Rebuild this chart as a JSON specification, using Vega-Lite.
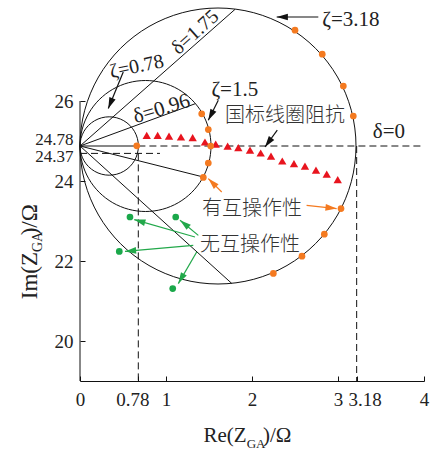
{
  "$schema": "https://vega.github.io/schema/vega-lite/v6.json",
  "autosize": {"type": "none"},
  "padding": {"left": 80, "top": 1, "right": 7, "bottom": 70},
  "width": 344,
  "height": 380,
  "background": "white",
  "config": {
    "view": {"stroke": null},
    "axis": {"grid": false, "labelFont": "Liberation Serif", "labelFontSize": 19, "labelColor": "#222", "domainColor": "#111", "tickColor": "#111", "labelAngle": 0, "labelOverlap": false, "labelBound": false, "labelFlush": false, "format": "~g"}
  },
  "datasets": {
    "circles": [
      {"c":"s","i":0,"x":0.679,"y":24.875},{"c":"s","i":1,"x":0.6674,"y":25.064},{"c":"s","i":2,"x":0.6335,"y":25.24},{"c":"s","i":3,"x":0.5796,"y":25.391},{"c":"s","i":4,"x":0.5093,"y":25.507},{"c":"s","i":5,"x":0.4274,"y":25.58},{"c":"s","i":6,"x":0.3395,"y":25.605},{"c":"s","i":7,"x":0.2516,"y":25.58},{"c":"s","i":8,"x":0.1698,"y":25.507},{"c":"s","i":9,"x":0.0994,"y":25.391},{"c":"s","i":10,"x":0.0455,"y":25.24},{"c":"s","i":11,"x":0.0116,"y":25.064},{"c":"s","i":12,"x":0,"y":24.875},{"c":"s","i":13,"x":0.0116,"y":24.686},{"c":"s","i":14,"x":0.0455,"y":24.51},{"c":"s","i":15,"x":0.0994,"y":24.359},{"c":"s","i":16,"x":0.1698,"y":24.243},{"c":"s","i":17,"x":0.2516,"y":24.17},{"c":"s","i":18,"x":0.3395,"y":24.145},{"c":"s","i":19,"x":0.4274,"y":24.17},{"c":"s","i":20,"x":0.5093,"y":24.243},{"c":"s","i":21,"x":0.5796,"y":24.359},{"c":"s","i":22,"x":0.6335,"y":24.51},{"c":"s","i":23,"x":0.6674,"y":24.686},
      {"c":"m","i":0,"x":1.5232,"y":24.875},{"c":"m","i":1,"x":1.4972,"y":25.299},{"c":"m","i":2,"x":1.4211,"y":25.694},{"c":"m","i":3,"x":1.3001,"y":26.033},{"c":"m","i":4,"x":1.1424,"y":26.293},{"c":"m","i":5,"x":0.9587,"y":26.457},{"c":"m","i":6,"x":0.7616,"y":26.5125},{"c":"m","i":7,"x":0.5645,"y":26.457},{"c":"m","i":8,"x":0.3808,"y":26.293},{"c":"m","i":9,"x":0.2231,"y":26.033},{"c":"m","i":10,"x":0.1021,"y":25.694},{"c":"m","i":11,"x":0.026,"y":25.299},{"c":"m","i":12,"x":0,"y":24.875},{"c":"m","i":13,"x":0.026,"y":24.451},{"c":"m","i":14,"x":0.1021,"y":24.056},{"c":"m","i":15,"x":0.2231,"y":23.717},{"c":"m","i":16,"x":0.3808,"y":23.457},{"c":"m","i":17,"x":0.5645,"y":23.293},{"c":"m","i":18,"x":0.7616,"y":23.2375},{"c":"m","i":19,"x":0.9587,"y":23.293},{"c":"m","i":20,"x":1.1424,"y":23.457},{"c":"m","i":21,"x":1.3001,"y":23.717},{"c":"m","i":22,"x":1.4211,"y":24.056},{"c":"m","i":23,"x":1.4972,"y":24.451},
      {"c":"b","i":0,"x":3.2094,"y":24.875},{"c":"b","i":1,"x":3.1547,"y":25.768},{"c":"b","i":2,"x":2.9944,"y":26.6},{"c":"b","i":3,"x":2.7394,"y":27.3145},{"c":"b","i":4,"x":2.4071,"y":27.8627},{"c":"b","i":5,"x":2.02,"y":28.2074},{"c":"b","i":6,"x":1.6047,"y":28.325},{"c":"b","i":7,"x":1.1894,"y":28.2074},{"c":"b","i":8,"x":0.8024,"y":27.8627},{"c":"b","i":9,"x":0.47,"y":27.3145},{"c":"b","i":10,"x":0.215,"y":26.6},{"c":"b","i":11,"x":0.0547,"y":25.768},{"c":"b","i":12,"x":0,"y":24.875},{"c":"b","i":13,"x":0.0547,"y":23.982},{"c":"b","i":14,"x":0.215,"y":23.15},{"c":"b","i":15,"x":0.47,"y":22.4355},{"c":"b","i":16,"x":0.8024,"y":21.8873},{"c":"b","i":17,"x":1.1894,"y":21.5426},{"c":"b","i":18,"x":1.6047,"y":21.425},{"c":"b","i":19,"x":2.02,"y":21.5426},{"c":"b","i":20,"x":2.4071,"y":21.8873},{"c":"b","i":21,"x":2.7394,"y":22.4355},{"c":"b","i":22,"x":2.9944,"y":23.15},{"c":"b","i":23,"x":3.1547,"y":23.982}
    ],
    "solid": [
      {"x":0,"y":24.875,"x2":0.679,"y2":24.875},
      {"x":0,"y":24.875,"x2":1.802,"y2":28.29},
      {"x":0,"y":24.875,"x2":1.337,"y2":25.93},
      {"x":0,"y":24.875,"x2":1.434,"y2":24.1},
      {"x":0,"y":24.875,"x2":1.764,"y2":21.44},
      {"x":0,"y":19,"x2":0,"y2":26}
    ],
    "dashed": [
      {"x":0.679,"y":24.875,"x2":4,"y2":24.875},
      {"x":0,"y":24.69,"x2":0.93,"y2":24.69},
      {"x":0.678,"y":24.69,"x2":0.678,"y2":19},
      {"x":3.217,"y":24.875,"x2":3.217,"y2":19}
    ],
    "arrows": [
      {"k":"black","x":2.771,"y":28.1,"x2":2.287,"y2":28.1,"ang":270},
      {"k":"black","x":0.503,"y":26.725,"x2":0.329,"y2":25.81,"ang":202},
      {"k":"black","x":1.608,"y":26.02,"x2":1.492,"y2":25.52,"ang":207},
      {"k":"black","x":2.294,"y":25.27,"x2":2.151,"y2":24.85,"ang":216},
      {"k":"orange","x":1.648,"y":23.725,"x2":1.492,"y2":24.06,"ang":315},
      {"k":"orange","x":2.635,"y":23.39,"x2":2.984,"y2":23.31,"ang":96},
      {"k":"green","x":1.337,"y":22.6,"x2":0.631,"y2":23.035,"ang":286},
      {"k":"green","x":1.376,"y":22.64,"x2":1.163,"y2":23.02,"ang":309},
      {"k":"green","x":1.317,"y":22.39,"x2":0.523,"y2":22.24,"ang":265},
      {"k":"green","x":1.357,"y":22.225,"x2":1.143,"y2":21.435,"ang":210}
    ],
    "orange": [
      {"x":0.66,"y":24.88},{"x":1.415,"y":25.68},{"x":1.492,"y":25.285},{"x":1.52,"y":24.875},{"x":1.492,"y":24.45},{"x":1.434,"y":24.09},
      {"x":2.5,"y":27.77},{"x":2.817,"y":27.17},{"x":3.062,"y":26.375},{"x":3.178,"y":25.625},
      {"x":3.035,"y":23.31},{"x":2.841,"y":22.67},{"x":2.581,"y":22.12},{"x":2.248,"y":21.69}
    ],
    "red": [
      {"x":0.776,"y":25.14},{"x":0.903,"y":25.14},{"x":1.035,"y":25.12},{"x":1.174,"y":25.1},{"x":1.31,"y":25.085},{"x":1.453,"y":24.975},{"x":1.578,"y":24.92},{"x":1.717,"y":24.87},{"x":1.841,"y":24.835},{"x":1.977,"y":24.77},{"x":2.101,"y":24.7},{"x":2.221,"y":24.62},{"x":2.352,"y":24.5},{"x":2.488,"y":24.435},{"x":2.616,"y":24.37},{"x":2.744,"y":24.27},{"x":2.869,"y":24.17},{"x":2.997,"y":24.035}
    ],
    "green": [
      {"x":0.581,"y":23.1},{"x":1.113,"y":23.1},{"x":0.457,"y":22.24},{"x":1.078,"y":21.31}
    ]
  },
  "layer": [
    {
      "data": {"name": "circles"},
      "mark": {"type": "line", "interpolate": "cardinal-closed", "color": "#111", "strokeWidth": 1},
      "encoding": {
        "x": {"field": "x", "type": "quantitative", "scale": {"domain": [0, 4], "nice": false, "zero": false},
              "axis": {"values": [0, 0.678, 1, 2, 3, 3.217, 4], "title": null, "tickSize": -5, "labelPadding": 14,
                       "labelExpr": "datum.value > 0.6 && datum.value < 0.7 ? '0.78' : (datum.value > 3.1 && datum.value < 3.3 ? '3.18' : datum.label)",
                       "labelOffset": {"condition": [{"test": "datum.value > 0.6 && datum.value < 0.7", "value": -6}, {"test": "datum.value > 3.1 && datum.value < 3.3", "value": 8}], "value": 0}}},
        "y": {"field": "y", "type": "quantitative", "scale": {"domain": [19, 28.5], "nice": false, "zero": false},
              "axis": {"values": [20, 22, 24, 24.69, 24.875, 26], "title": null, "domain": false, "tickSize": -5, "labelPadding": 12,
                       "labelExpr": "datum.value > 24.8 && datum.value < 24.9 ? '24.78' : (datum.value > 24.6 && datum.value < 24.8 ? '24.37' : datum.label)",
                       "labelOffset": {"condition": [{"test": "datum.value > 24.8 && datum.value < 24.9", "value": -7}, {"test": "datum.value > 24.6 && datum.value < 24.8", "value": 3}], "value": 0},
                       "labelFontSize": {"condition": {"test": "datum.value > 24.6 && datum.value < 24.9", "value": 17}, "value": 19},
                       "tickOpacity": {"condition": {"test": "datum.value > 24.6 && datum.value < 24.9", "value": 0}, "value": 1}}},
        "detail": {"field": "c"},
        "order": {"field": "i", "type": "quantitative"}
      }
    },
    {
      "data": {"name": "solid"},
      "mark": {"type": "rule", "color": "#111", "strokeWidth": 1},
      "encoding": {"x": {"field": "x", "type": "quantitative"}, "y": {"field": "y", "type": "quantitative"}, "x2": {"field": "x2"}, "y2": {"field": "y2"}}
    },
    {
      "data": {"name": "dashed"},
      "mark": {"type": "rule", "color": "#111", "strokeWidth": 1, "strokeDash": [7, 4]},
      "encoding": {"x": {"field": "x", "type": "quantitative"}, "y": {"field": "y", "type": "quantitative"}, "x2": {"field": "x2"}, "y2": {"field": "y2"}}
    },
    {
      "data": {"name": "red"},
      "mark": {"type": "point", "shape": "triangle-up", "filled": true, "size": 70, "color": "#e8141e", "opacity": 1},
      "encoding": {"x": {"field": "x", "type": "quantitative"}, "y": {"field": "y", "type": "quantitative"}}
    },
    {
      "data": {"name": "orange"},
      "mark": {"type": "circle", "size": 45, "color": "#f47a20", "opacity": 1},
      "encoding": {"x": {"field": "x", "type": "quantitative"}, "y": {"field": "y", "type": "quantitative"}}
    },
    {
      "data": {"name": "green"},
      "mark": {"type": "circle", "size": 45, "color": "#1aa84a", "opacity": 1},
      "encoding": {"x": {"field": "x", "type": "quantitative"}, "y": {"field": "y", "type": "quantitative"}}
    },
    {
      "data": {"name": "arrows"},
      "mark": {"type": "rule", "strokeWidth": 1.2},
      "encoding": {"x": {"field": "x", "type": "quantitative"}, "y": {"field": "y", "type": "quantitative"}, "x2": {"field": "x2"}, "y2": {"field": "y2"},
        "color": {"field": "k", "type": "nominal", "scale": {"domain": ["black", "orange", "green"], "range": ["#111111", "#f47a20", "#22a84a"]}, "legend": null}}
    },
    {
      "data": {"name": "arrows"},
      "mark": {"type": "point", "shape": "M0,0L-0.3,1L0.3,1Z", "filled": true, "size": 500, "opacity": 1},
      "encoding": {"x": {"field": "x2", "type": "quantitative"}, "y": {"field": "y2", "type": "quantitative"},
        "angle": {"field": "ang", "type": "quantitative", "scale": null},
        "color": {"field": "k", "type": "nominal", "scale": {"domain": ["black", "orange", "green"], "range": ["#111111", "#f47a20", "#22a84a"]}, "legend": null}}
    },
    {
      "data": {"values": [{"t": "ζ=3.18", "x": 3.15, "y": 28.02}, {"t": "ζ=1.5", "x": 1.8, "y": 26.28}, {"t": "δ=0", "x": 3.593, "y": 25.22}]},
      "mark": {"type": "text", "font": "Liberation Serif", "fontSize": 21, "color": "#222", "align": "center", "baseline": "middle"},
      "encoding": {"x": {"field": "x", "type": "quantitative"}, "y": {"field": "y", "type": "quantitative"}, "text": {"field": "t"}}
    },
    {
      "data": {"values": [{"t": "ζ=0.78", "x": 0.66, "y": 26.86}]},
      "mark": {"type": "text", "font": "Liberation Serif", "fontSize": 20, "color": "#222", "align": "center", "baseline": "middle", "angle": -12},
      "encoding": {"x": {"field": "x", "type": "quantitative"}, "y": {"field": "y", "type": "quantitative"}, "text": {"field": "t"}}
    },
    {
      "data": {"values": [{"t": "δ=1.75", "x": 1.34, "y": 27.72}]},
      "mark": {"type": "text", "font": "Liberation Serif", "fontSize": 20, "color": "#222", "align": "center", "baseline": "middle", "angle": -42},
      "encoding": {"x": {"field": "x", "type": "quantitative"}, "y": {"field": "y", "type": "quantitative"}, "text": {"field": "t"}}
    },
    {
      "data": {"values": [{"t": "δ=0.96", "x": 0.95, "y": 25.8}]},
      "mark": {"type": "text", "font": "Liberation Serif", "fontSize": 21, "color": "#222", "align": "center", "baseline": "middle", "angle": -17},
      "encoding": {"x": {"field": "x", "type": "quantitative"}, "y": {"field": "y", "type": "quantitative"}, "text": {"field": "t"}}
    },
    {
      "data": {"values": [{"t": "国标线圈阻抗", "x": 2.384, "y": 25.62}, {"t": "有互操作性", "x": 2.0, "y": 23.29}, {"t": "无互操作性", "x": 1.977, "y": 22.39}]},
      "mark": {"type": "text", "font": "Noto Sans CJK SC", "fontWeight": 300, "fontSize": 20, "color": "#333", "align": "center", "baseline": "middle"},
      "encoding": {"x": {"field": "x", "type": "quantitative"}, "y": {"field": "y", "type": "quantitative"}, "text": {"field": "t"}}
    },
    {
      "data": {"values": [{"t": "Re(Z", "x": 1.938, "y": 17.475}]},
      "mark": {"type": "text", "font": "Liberation Serif", "fontSize": 21, "color": "#222", "align": "right", "baseline": "alphabetic"},
      "encoding": {"x": {"field": "x", "type": "quantitative"}, "y": {"field": "y", "type": "quantitative"}, "text": {"field": "t"}}
    },
    {
      "data": {"values": [{"t": "GA", "x": 1.938, "y": 17.32}]},
      "mark": {"type": "text", "font": "Liberation Serif", "fontSize": 13, "color": "#222", "align": "left", "baseline": "alphabetic"},
      "encoding": {"x": {"field": "x", "type": "quantitative"}, "y": {"field": "y", "type": "quantitative"}, "text": {"field": "t"}}
    },
    {
      "data": {"values": [{"t": ")/Ω", "x": 2.128, "y": 17.475}]},
      "mark": {"type": "text", "font": "Liberation Serif", "fontSize": 21, "color": "#222", "align": "left", "baseline": "alphabetic"},
      "encoding": {"x": {"field": "x", "type": "quantitative"}, "y": {"field": "y", "type": "quantitative"}, "text": {"field": "t"}}
    },
    {
      "data": {"values": [{"t": "Im(Z", "x": -0.5035, "y": 22.225}]},
      "mark": {"type": "text", "font": "Liberation Serif", "fontSize": 23, "color": "#222", "align": "right", "baseline": "alphabetic", "angle": -90},
      "encoding": {"x": {"field": "x", "type": "quantitative"}, "y": {"field": "y", "type": "quantitative"}, "text": {"field": "t"}}
    },
    {
      "data": {"values": [{"t": "GA", "x": -0.445, "y": 22.225}]},
      "mark": {"type": "text", "font": "Liberation Serif", "fontSize": 14, "color": "#222", "align": "left", "baseline": "alphabetic", "angle": -90},
      "encoding": {"x": {"field": "x", "type": "quantitative"}, "y": {"field": "y", "type": "quantitative"}, "text": {"field": "t"}}
    },
    {
      "data": {"values": [{"t": ")/Ω", "x": -0.5035, "y": 22.6425}]},
      "mark": {"type": "text", "font": "Liberation Serif", "fontSize": 23, "color": "#222", "align": "left", "baseline": "alphabetic", "angle": -90},
      "encoding": {"x": {"field": "x", "type": "quantitative"}, "y": {"field": "y", "type": "quantitative"}, "text": {"field": "t"}}
    }
  ]
}
